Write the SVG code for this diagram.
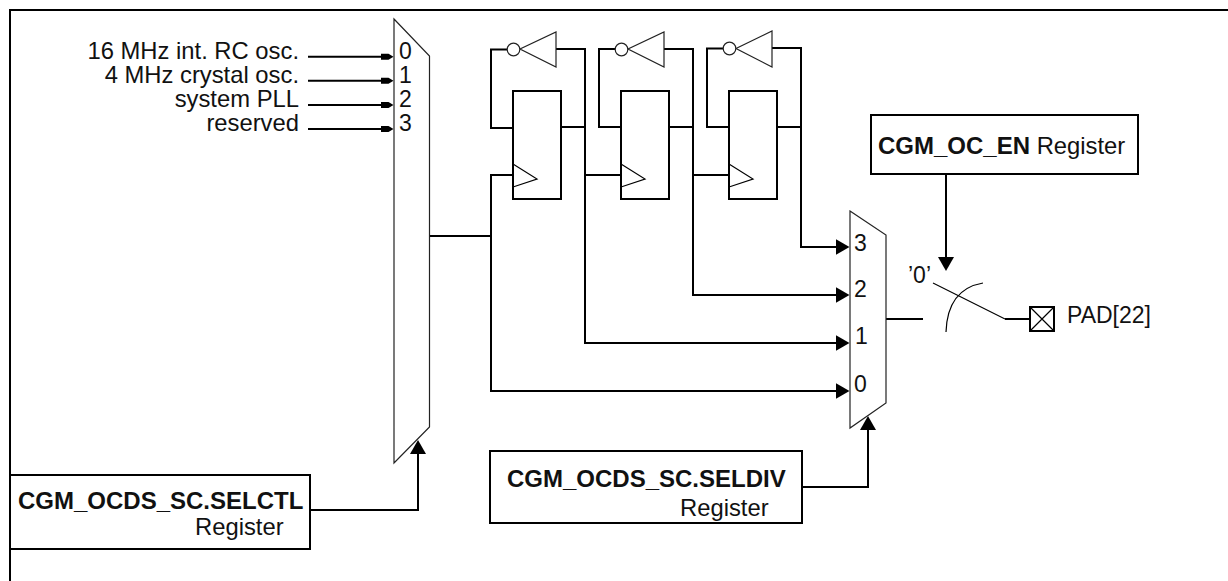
<svg xmlns="http://www.w3.org/2000/svg" width="1228" height="581" viewBox="0 0 1228 581">
<style>
text{font-family:"Liberation Sans",Arial,sans-serif;font-size:23.8px;fill:#111}
.b{font-weight:bold;font-size:24px}
.d{font-size:23px}
.e{text-anchor:end}
.w{fill:none;stroke:#000;stroke-width:2}
.t{fill:none;stroke:#000;stroke-width:1.200}
.box{fill:#fff;stroke:#000;stroke-width:2}
.s{fill:#fff;stroke:#222;stroke-width:1.200}
</style>
<defs>
<marker id="sm" markerUnits="userSpaceOnUse" markerWidth="14" markerHeight="8" refX="9" refY="4" orient="auto"><path d="M0 1L8 1L13 4L8 7L0 7z"/></marker>
<marker id="lg" markerUnits="userSpaceOnUse" markerWidth="14" markerHeight="16" refX="8" refY="8" orient="auto"><path d="M0 0L14 8L0 16z"/></marker>
</defs>
<g id="frame"><path class="w" d="M10 581V10H1228"/></g>
<g id="connectors">
<path class="w" marker-end="url(#sm)" d="M308 56.700H389.500"/>
<path class="w" marker-end="url(#sm)" d="M308 80.700H389.500"/>
<path class="w" marker-end="url(#sm)" d="M308 105H389.500"/>
<path class="w" marker-end="url(#sm)" d="M308 129H389.500"/>
<path class="w" d="M430 236H491"/>
<path class="w" marker-end="url(#lg)" d="M513 175H491V391H843.500"/>
<path class="w" d="M507 49.500H491V128H513"/>
<path class="w" marker-end="url(#lg)" d="M556 49H585V343H843.500"/>
<path class="w" d="M561 127H585M585 175H621"/>
<path class="w" d="M616 49H599V127H621"/>
<path class="w" marker-end="url(#lg)" d="M664 49H693V295H843.500"/>
<path class="w" d="M669 127H693M693 175H729"/>
<path class="w" d="M724 48.500H707V127H729"/>
<path class="w" marker-end="url(#lg)" d="M772 48H801V247H843.500"/>
<path class="w" d="M777 127H801"/>
<path class="w" marker-end="url(#lg)" d="M310 510H418V446"/>
<path class="w" marker-end="url(#lg)" d="M802 487H868V422"/>
<path class="w" marker-end="url(#lg)" d="M946 174V265"/>
<path class="w" d="M886 319H923M1005 319H1030"/>
<path class="t" d="M933 283L1005 319"/>
<path class="t" d="M946 332C947 303 960 287 983 283"/>
</g>
<g id="mux-a"><path class="s" d="M394 19L429.500 56V427L394 463Z"/><text class="d" x="399" y="59">0</text><text class="d" x="399" y="83">1</text><text class="d" x="399" y="107">2</text><text class="d" x="399" y="131">3</text></g>
<g id="labels-in"><text class="e" x="299" y="59">16 MHz int. RC osc.</text><text class="e" x="299" y="83">4 MHz crystal osc.</text><text class="e" x="299" y="107">system PLL</text><text class="e" x="299" y="131">reserved</text></g>
<g id="ff1"><rect class="box" x="513" y="91" width="48" height="108"/><path class="t" d="M513 164L537 179L513 187"/></g>
<g id="ff2"><rect class="box" x="621" y="91" width="48" height="108"/><path class="t" d="M621 164L645 179L621 187"/></g>
<g id="ff3"><rect class="box" x="729" y="91" width="48" height="108"/><path class="t" d="M729 164L753 179L729 187"/></g>
<g id="inv1"><path class="s" d="M556 32V67L520 49Z"/><circle class="s" cx="513.500" cy="49.500" r="6.300"/></g>
<g id="inv2"><path class="s" d="M664 32V67L628 49Z"/><circle class="s" cx="621.500" cy="49.500" r="6.300"/></g>
<g id="inv3"><path class="s" d="M772 31V67L736 48.500Z"/><circle class="s" cx="729.500" cy="48.500" r="6.300"/></g>
<g id="mux-b"><path class="s" d="M850 211L886 235V403L850 428Z"/><text class="d" x="854" y="251">3</text><text class="d" x="854" y="297">2</text><text class="d" x="855" y="344">1</text><text class="d" x="854" y="392">0</text></g>
<g id="reg-selctl"><rect class="box" x="10" y="475" width="300" height="74"/><text class="b" x="18" y="509">CGM_OCDS_SC.SELCTL</text><text x="195" y="535">Register</text></g>
<g id="reg-seldiv"><rect class="box" x="490" y="451" width="312" height="72"/><text class="b" x="507" y="487">CGM_OCDS_SC.SELDIV</text><text x="680" y="516">Register</text></g>
<g id="reg-oc-en"><rect class="box" x="871" y="115" width="267" height="59"/><text x="878" y="154"><tspan class="b">CGM_OC_EN</tspan> Register</text></g>
<g id="zero"><text class="d" x="908" y="283">’0’</text></g>
<g id="pad"><rect class="box" x="1030" y="307" width="24" height="24"/><path class="t" d="M1030 307L1054 331M1054 307L1030 331"/><text class="d" x="1067" y="323">PAD[22]</text></g>
</svg>
